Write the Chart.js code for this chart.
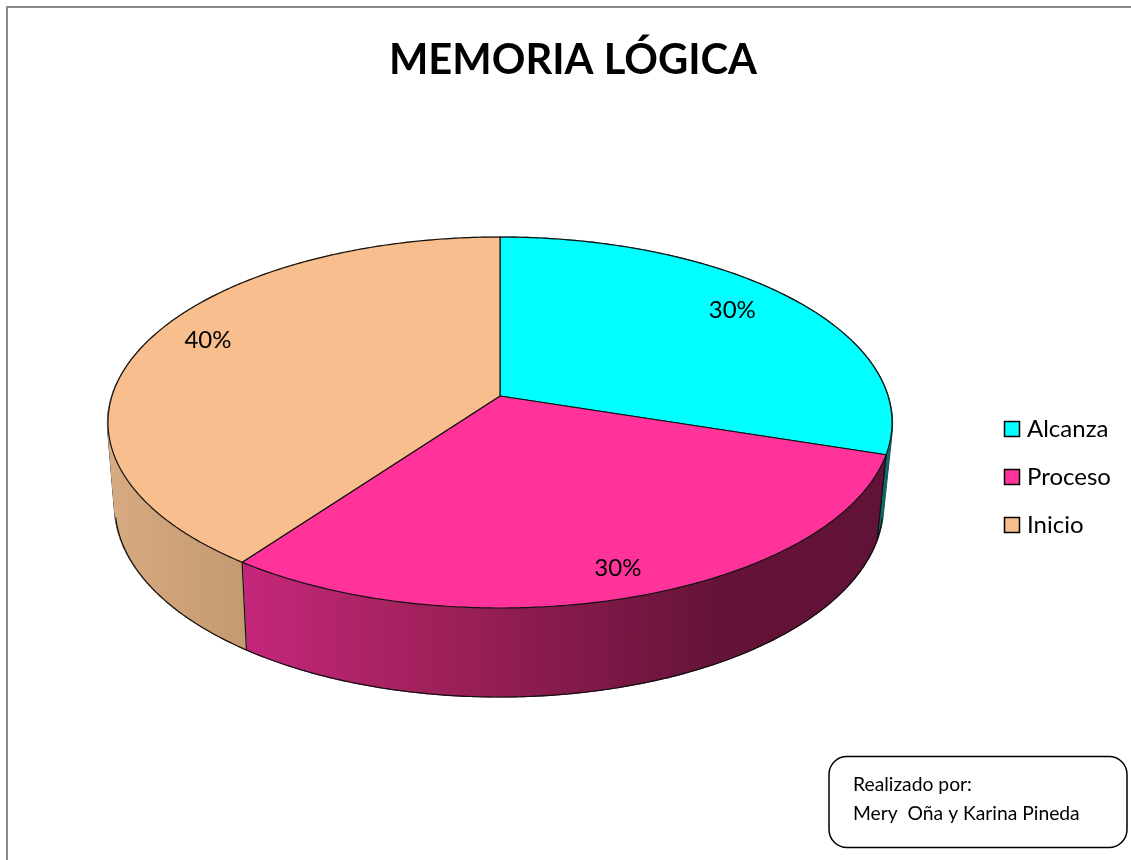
<!DOCTYPE html>
<html>
<head>
<meta charset="utf-8">
<style>html,body{margin:0;padding:0;background:#fff;overflow:hidden}canvas{display:block}</style>
<script src="https://cdn.jsdelivr.net/npm/chart.js@4"></script>
</head>
<body>
<canvas id="c" width="1131" height="860"></canvas>
<script>
const titleText = 'MEMORIA LÓGICA';
const categories = ['Alcanza', 'Proceso', 'Inicio'];
const values = [30, 30, 40];
const colors = ['#00FFFF', '#FF3399', '#F8BE8D'];
const noteLines = ['Realizado por:', 'Mery  Oña y Karina Pineda'];

// Perspective projection of the pie disc: top face and lower rim.
const TOP = {cx: 500, cy: 396, ax: 388, ay: 181.7, k: -0.1429};
const BOTTOM = {cx: 499, cy: 479.3, ax: 380, ay: 186.6, k: -0.1429};
const project = (p, angle, r = 1) => {
  const X = Math.cos(angle) * r, Y = Math.sin(angle) * r, w = 1 + p.k * Y;
  return [p.cx + p.ax * X / w, p.cy + p.ay * Y / w];
};
const arcPath = (ctx, p, a, b, first) => {
  const n = Math.max(2, Math.ceil(Math.abs(b - a) / 0.01));
  for (let i = 0; i <= n; i++) {
    const q = project(p, a + (b - a) * i / n);
    (first && i === 0) ? ctx.moveTo(q[0], q[1]) : ctx.lineTo(q[0], q[1]);
  }
};
const sideStops = [
  [[0, '#0a6a6a'], [1, '#0a6a6a']],
  [[0.15, '#c8277e'], [0.38, '#a5225f'], [0.58, '#861a4c'], [0.78, '#651338'], [1, '#611237']],
  [[0, '#d8aa82'], [0.18, '#c39a70'], [1, '#c39a70']]
];
const labelAnchors = [[0.80, -3, -6], [0.88, -2, 0], [0.82, 0, -11]];

const disc = {
  id: 'disc',
  beforeDatasetsDraw(chart) {
    const ctx = chart.ctx, arcs = chart.getDatasetMeta(0).data;
    ctx.save();
    ctx.lineJoin = 'round';
    // silhouette of the wall: only the outermost edge survives the fill below
    ctx.strokeStyle = '#333';
    ctx.lineWidth = 2.4;
    ctx.beginPath();
    arcs.forEach(el => {
      for (let t = el.startAngle; t <= el.endAngle; t += 0.01) {
        const p = project(TOP, t), q = project(BOTTOM, t);
        ctx.moveTo(p[0], p[1]);
        ctx.lineTo(q[0], q[1]);
      }
    });
    ctx.stroke();
    // side walls, as narrow facets so the fold at the silhouette stays filled
    arcs.forEach((el, i) => {
      const g = ctx.createLinearGradient(109, 0, 891, 0);
      sideStops[i].forEach(s => g.addColorStop(s[0], s[1]));
      ctx.fillStyle = g;
      ctx.strokeStyle = g;
      ctx.lineWidth = 1.2;
      const step = 0.02;
      for (let t = el.startAngle; t < el.endAngle; t += step) {
        const e = Math.min(t + step, el.endAngle);
        const a = project(TOP, t), b = project(TOP, e), c = project(BOTTOM, e), d = project(BOTTOM, t);
        ctx.beginPath();
        ctx.moveTo(a[0], a[1]);
        ctx.lineTo(b[0], b[1]);
        ctx.lineTo(c[0], c[1]);
        ctx.lineTo(d[0], d[1]);
        ctx.closePath();
        ctx.fill();
        ctx.stroke();
      }
    });
    // lower rim (front part only) and wall seams
    ctx.strokeStyle = '#111';
    ctx.lineWidth = 1.2;
    ctx.beginPath();
    arcPath(ctx, BOTTOM, 0.2, Math.PI - 0.2, true);
    ctx.stroke();
    arcs.forEach(el => {
      const p = project(TOP, el.startAngle), q = project(BOTTOM, el.startAngle);
      ctx.beginPath();
      ctx.moveTo(p[0], p[1]);
      ctx.lineTo(q[0], q[1]);
      ctx.stroke();
    });
    // top face
    arcs.forEach((el, i) => {
      ctx.beginPath();
      ctx.moveTo(TOP.cx, TOP.cy);
      arcPath(ctx, TOP, el.startAngle, el.endAngle, false);
      ctx.closePath();
      ctx.fillStyle = colors[i];
      ctx.fill();
      ctx.strokeStyle = '#111';
      ctx.lineWidth = 1.2;
      ctx.stroke();
    });
    // value labels
    ctx.fillStyle = '#000';
    ctx.font = '24px Lato';
    ctx.textAlign = 'center';
    ctx.textBaseline = 'middle';
    arcs.forEach((el, i) => {
      const a = labelAnchors[i];
      const q = project(TOP, (el.startAngle + el.endAngle) / 2, a[0]);
      ctx.fillText(values[i] + '%', q[0] + a[1], q[1] + a[2]);
    });
    ctx.restore();
    return false;
  },
  beforeDraw(chart) {
    const ctx = chart.ctx;
    ctx.save();
    ctx.fillStyle = '#fff';
    ctx.fillRect(0, 0, chart.width, chart.height);
    ctx.fillStyle = '#8a8a8a';
    ctx.fillRect(6, 6, chart.width - 6, 2);
    ctx.fillRect(6, 6, 2, chart.height - 6);
    ctx.restore();
  },
  afterLayout(chart) {
    const lg = chart.legend, pad = lg.options.labels.padding, w = lg.width, h = lg.height;
    lg.left = 1004 - pad; lg.right = lg.left + w;
    lg.top = 429 - 12 - pad; lg.bottom = lg.top + h;
  },
  afterDraw(chart) {
    const ctx = chart.ctx, lg = chart.legend, pad = lg.options.labels.padding;
    ctx.save();
    // legend swatches
    categories.forEach((t, i) => {
      const x = lg.left + pad + 0.5, y = lg.top + pad + 12 + i * (24 + pad) - 7.5;
      ctx.fillStyle = colors[i];
      ctx.strokeStyle = '#000';
      ctx.lineWidth = 1.5;
      ctx.fillRect(x, y, 15, 15);
      ctx.strokeRect(x, y, 15, 15);
    });
    // note box
    ctx.beginPath();
    ctx.roundRect(829, 756.5, 298, 91, 18);
    ctx.fillStyle = '#fff';
    ctx.fill();
    ctx.strokeStyle = '#000';
    ctx.lineWidth = 1.5;
    ctx.stroke();
    ctx.fillStyle = '#000';
    ctx.font = '19.3px Lato';
    ctx.textAlign = 'left';
    ctx.textBaseline = 'middle';
    ctx.fillText(noteLines[0], 853, 785);
    ctx.fillText(noteLines[1], 853, 814);
    ctx.restore();
  }
};

new Chart(document.getElementById('c'), {
  type: 'pie',
  data: {
    labels: categories,
    datasets: [{data: values, backgroundColor: colors, borderColor: '#000', borderWidth: 1}]
  },
  options: {
    responsive: false,
    animation: false,
    layout: {padding: {left: 15}},
    plugins: {
      title: {
        display: true,
        text: titleText,
        color: '#000',
        font: {family: 'Lato', size: 41.7, weight: 'bold'},
        padding: {top: 36, bottom: 10}
      },
      legend: {
        display: true,
        position: 'right',
        align: 'start',
        labels: {
          color: '#000',
          font: {family: 'Lato', size: 24},
          boxWidth: 11,
          boxHeight: 16,
          padding: 24,
          generateLabels: c => c.data.labels.map((t, i) => ({
            text: t, index: i, fillStyle: 'rgba(0,0,0,0)', strokeStyle: 'rgba(0,0,0,0)', lineWidth: 0
          }))
        }
      },
      tooltip: {enabled: false}
    }
  },
  plugins: [disc]
});
</script>
</body>
</html>
